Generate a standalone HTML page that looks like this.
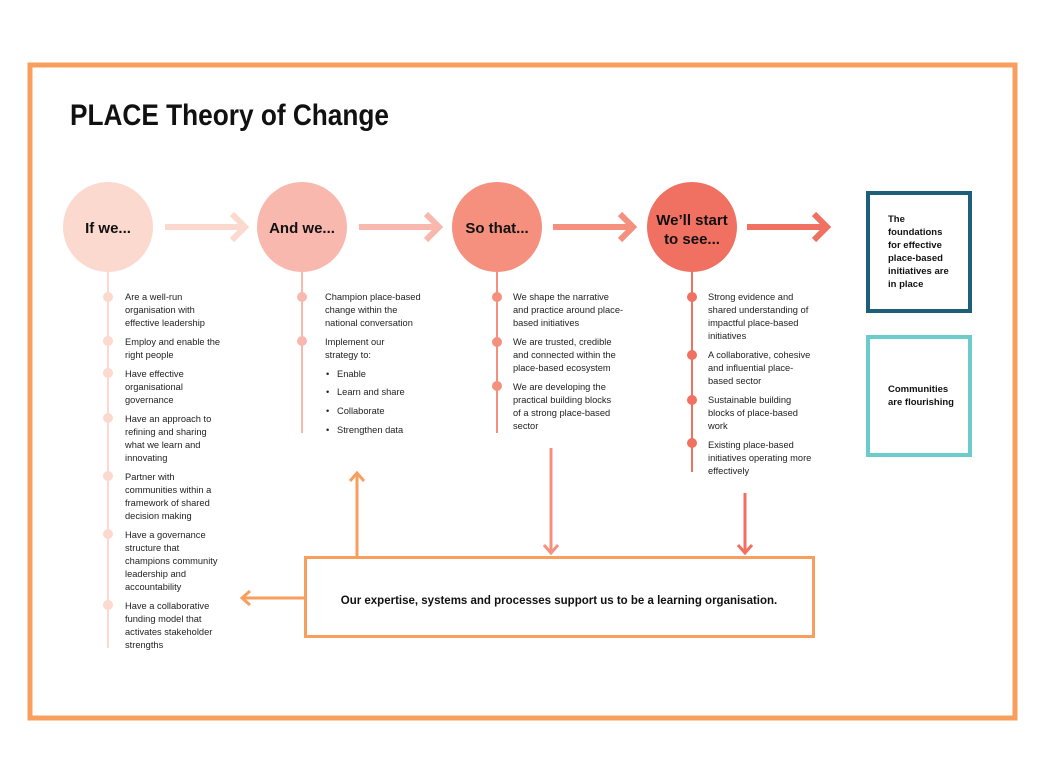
<!DOCTYPE html>
<html><head><meta charset="utf-8"><style>
html,body{margin:0;padding:0;background:#fff;}
svg{display:block;font-family:"Liberation Sans",sans-serif;}
.t{font-size:9.3px;fill:#222;}
.b{font-weight:bold;fill:#111;}
</style></head><body>
<svg width="1040" height="780" viewBox="0 0 1040 780" xmlns="http://www.w3.org/2000/svg">
<rect x="30" y="65" width="985" height="653" fill="none" stroke="#F99F5E" stroke-width="5"/>
<text x="70" y="125" class="b" font-size="30" textLength="319" lengthAdjust="spacingAndGlyphs">PLACE Theory of Change</text>

<!-- arrows between circles -->
<g fill="none" stroke-width="6" stroke-linejoin="miter">
<g stroke="#FCD9CF"><line x1="165" y1="227" x2="243" y2="227"/><polyline points="232,214 245,227 232,240"/></g>
<g stroke="#F8B8AE"><line x1="359" y1="227" x2="437" y2="227"/><polyline points="426,214 439,227 426,240"/></g>
<g stroke="#F6907E"><line x1="553" y1="227" x2="631" y2="227"/><polyline points="620,214 633,227 620,240"/></g>
<g stroke="#F07062"><line x1="747" y1="227" x2="825" y2="227"/><polyline points="814,214 827,227 814,240"/></g>
</g>

<!-- vertical lines -->
<line x1="108" y1="270" x2="108" y2="648" stroke="#FCD9CF" stroke-width="2"/>
<line x1="302" y1="270" x2="302" y2="433" stroke="#F8B8AE" stroke-width="2"/>
<line x1="497" y1="270" x2="497" y2="433" stroke="#F6907E" stroke-width="2"/>
<line x1="692" y1="270" x2="692" y2="472" stroke="#F07062" stroke-width="2"/>

<!-- circles -->
<circle cx="108" cy="227" r="45" fill="#FCD9CF"/>
<circle cx="302" cy="227" r="45" fill="#F8B8AE"/>
<circle cx="497" cy="227" r="45" fill="#F6907E"/>
<circle cx="692" cy="227" r="45" fill="#F07062"/>
<text x="108" y="233" text-anchor="middle" class="b" font-size="15">If we...</text>
<text x="302" y="233" text-anchor="middle" class="b" font-size="15">And we...</text>
<text x="497" y="233" text-anchor="middle" class="b" font-size="15">So that...</text>
<text x="692" y="225" text-anchor="middle" class="b" font-size="15">We’ll start</text>
<text x="692" y="244" text-anchor="middle" class="b" font-size="15">to see...</text>

<!-- col1 -->
<g fill="#FCD9CF"><circle cx="108" cy="297" r="5"/><circle cx="108" cy="341" r="5"/><circle cx="108" cy="373" r="5"/><circle cx="108" cy="418" r="5"/><circle cx="108" cy="476" r="5"/><circle cx="108" cy="534" r="5"/><circle cx="108" cy="605" r="5"/></g>
<g class="t">
<text x="125" y="300">Are a well-run</text><text x="125" y="313">organisation with</text><text x="125" y="326">effective leadership</text>
<text x="125" y="345">Employ and enable the</text><text x="125" y="358">right people</text>
<text x="125" y="377">Have effective</text><text x="125" y="390">organisational</text><text x="125" y="403">governance</text>
<text x="125" y="422">Have an approach to</text><text x="125" y="435">refining and sharing</text><text x="125" y="448">what we learn and</text><text x="125" y="461">innovating</text>
<text x="125" y="480">Partner with</text><text x="125" y="493">communities within a</text><text x="125" y="506">framework of shared</text><text x="125" y="519">decision making</text>
<text x="125" y="538">Have a governance</text><text x="125" y="551">structure that</text><text x="125" y="564">champions community</text><text x="125" y="577">leadership and</text><text x="125" y="590">accountability</text>
<text x="125" y="609">Have a collaborative</text><text x="125" y="622">funding model that</text><text x="125" y="635">activates stakeholder</text><text x="125" y="648">strengths</text>
</g>

<!-- col2 -->
<g fill="#F8B8AE"><circle cx="302" cy="297" r="5"/><circle cx="302" cy="341" r="5"/></g>
<g class="t">
<text x="325" y="300">Champion place-based</text><text x="325" y="313">change within the</text><text x="325" y="326">national conversation</text>
<text x="325" y="345">Implement our</text><text x="325" y="358">strategy to:</text>
<text x="326" y="377">•</text><text x="337" y="377">Enable</text>
<text x="326" y="395">•</text><text x="337" y="395">Learn and share</text>
<text x="326" y="414">•</text><text x="337" y="414">Collaborate</text>
<text x="326" y="433">•</text><text x="337" y="433">Strengthen data</text>
</g>

<!-- col3 -->
<g fill="#F6907E"><circle cx="497" cy="297" r="5"/><circle cx="497" cy="342" r="5"/><circle cx="497" cy="386" r="5"/></g>
<g class="t">
<text x="513" y="300">We shape the narrative</text><text x="513" y="313">and practice around place-</text><text x="513" y="326">based initiatives</text>
<text x="513" y="345">We are trusted, credible</text><text x="513" y="358">and connected within the</text><text x="513" y="371">place-based ecosystem</text>
<text x="513" y="390">We are developing the</text><text x="513" y="403">practical building blocks</text><text x="513" y="416">of a strong place-based</text><text x="513" y="429">sector</text>
</g>

<!-- col4 -->
<g fill="#F07062"><circle cx="692" cy="297" r="5"/><circle cx="692" cy="355" r="5"/><circle cx="692" cy="400" r="5"/><circle cx="692" cy="443" r="5"/></g>
<g class="t">
<text x="708" y="300">Strong evidence and</text><text x="708" y="313">shared understanding of</text><text x="708" y="326">impactful place-based</text><text x="708" y="339">initiatives</text>
<text x="708" y="358">A collaborative, cohesive</text><text x="708" y="371">and influential place-</text><text x="708" y="384">based sector</text>
<text x="708" y="403">Sustainable building</text><text x="708" y="416">blocks of place-based</text><text x="708" y="429">work</text>
<text x="708" y="448">Existing place-based</text><text x="708" y="461">initiatives operating more</text><text x="708" y="474">effectively</text>
</g>

<!-- outcome boxes -->
<rect x="868" y="193" width="102" height="118" fill="#fff" stroke="#1F5E78" stroke-width="4"/>
<g class="b" font-size="9.5">
<text x="888" y="222">The</text><text x="888" y="235">foundations</text><text x="888" y="248">for effective</text><text x="888" y="261">place-based</text><text x="888" y="274">initiatives are</text><text x="888" y="287">in place</text>
</g>
<rect x="868" y="337" width="102" height="118" fill="#fff" stroke="#6CCBCB" stroke-width="4"/>
<g class="b" font-size="9.5"><text x="888" y="392">Communities</text><text x="888" y="405">are flourishing</text></g>

<!-- bottom box -->
<rect x="305.5" y="557.5" width="508" height="79" fill="#fff" stroke="#F99F5E" stroke-width="3"/>
<text x="559" y="604" text-anchor="middle" class="b" font-size="11.5">Our expertise, systems and processes support us to be a learning organisation.</text>

<g fill="none" stroke-width="3">
<g stroke="#F99F5E"><line x1="357" y1="556" x2="357" y2="474"/><polyline points="350,481 357,473 364,481"/>
<line x1="304" y1="598" x2="243" y2="598"/><polyline points="250,591 242,598 250,605"/></g>
<g stroke="#F6907E"><line x1="551" y1="448" x2="551" y2="552"/><polyline points="544,545 551,553 558,545"/></g>
<g stroke="#F07062"><line x1="745" y1="493" x2="745" y2="552"/><polyline points="738,545 745,553 752,545"/></g>
</g>
</svg>
</body></html>
